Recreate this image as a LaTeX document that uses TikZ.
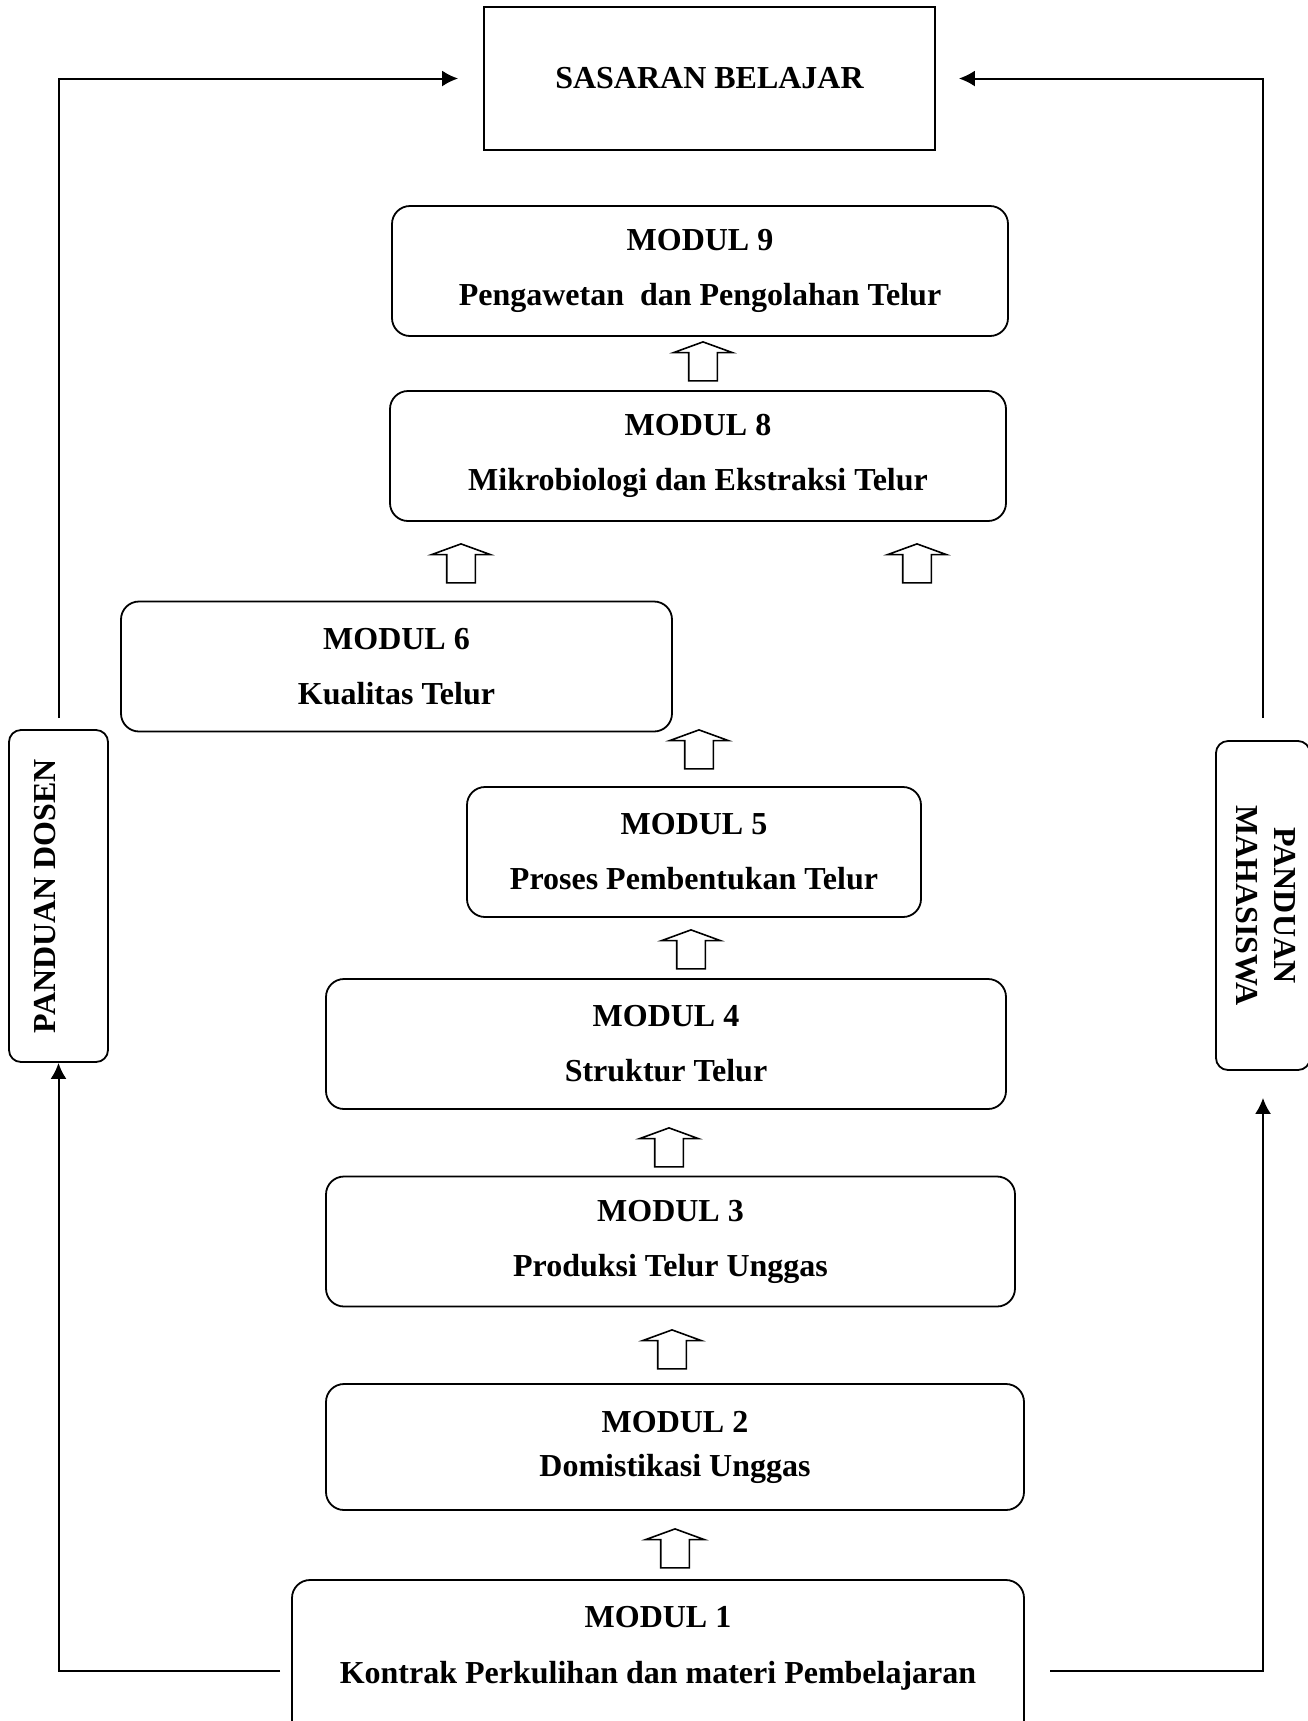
\documentclass[tikz,border=0pt]{standalone}
\usepackage{fontspec}
\setmainfont{Liberation Serif}
\usepackage{graphicx}
\usetikzlibrary{shapes, arrows, arrows.meta, positioning, calc}

\begin{document}
\begin{tikzpicture}[x=0.5pt, y=-0.5pt, line width=0.9pt]
    \tikzstyle{block} = [rectangle, draw, rounded corners=9pt, minimum height=65pt,
                         align=center, inner sep=0pt,
                         font=\fontsize{16}{19}\selectfont\bfseries]
    \tikzstyle{side} = [rectangle, draw, rounded corners=6pt, inner sep=0pt,
                        font=\fontsize{16}{19}\selectfont\bfseries]
    \tikzstyle{up} = [single arrow, draw, rotate=90, minimum height=19.5pt,
                      inner xsep=0pt, inner ysep=6.75pt, single arrow head extend=7.5pt,
                      single arrow tip angle=140, line width=0.8pt]
    \tikzstyle{link} = [line width=1pt, -{Latex[length=8pt, width=8pt]}]

    \useasboundingbox (0,0) rectangle (1308,1721);

    \node [rectangle, draw, minimum width=225.5pt, minimum height=71.5pt,
           font=\fontsize{16}{19}\selectfont\bfseries] (goal) at (709.5,78.5) {SASARAN BELAJAR};

    \node [block, minimum width=308pt] (m9) at (700,271)
        {MODUL 9\\[8.5pt]Pengawetan\ \ dan Pengolahan Telur};
    \node [block, minimum width=308pt] (m8) at (698,456)
        {MODUL 8\\[8.5pt]Mikrobiologi dan Ekstraksi Telur};
    \node [block, minimum width=275.5pt] (m6) at (396.5,666.5)
        {MODUL 6\\[8.5pt]Kualitas Telur};
    \node [block, minimum width=227pt] (m5) at (694,852)
        {MODUL 5\\[8.5pt]Proses Pembentukan Telur};
    \node [block, minimum width=340pt] (m4) at (666,1044)
        {MODUL 4\\[8.5pt]Struktur Telur};
    \node [block, minimum width=344.5pt] (m3) at (670.5,1241.5)
        {MODUL 3\\[8.5pt]Produksi Telur Unggas};
    \node [block, minimum width=349pt, minimum height=63pt] (m2) at (675,1447)
        {MODUL 2\\[3pt]Domistikasi Unggas};
    \node [block, minimum width=366pt, minimum height=80pt] (m1) at (658,1660)
        {MODUL 1\\[9pt]Kontrak Perkulihan dan materi Pembelajaran\rule[-15pt]{0pt}{0pt}};

    \node [up] (u98) at (703,364) {};
    \node [up] (u68) at (461,566) {};
    \node [up] (u78) at (917,566) {};
    \node [up] (u56) at (699,752) {};
    \node [up] (u45) at (691,952) {};
    \node [up] (u34) at (669,1150) {};
    \node [up] (u23) at (672,1352) {};
    \node [up] (u12) at (675,1551) {};

    \node [side, minimum width=49.5pt, minimum height=166pt] (dosen) at (58.5,896)
        {\rotatebox{90}{PANDUAN DOSEN\rule[-14pt]{0pt}{0pt}}};
    \node [side, minimum width=47pt, minimum height=164.5pt] (mhs) at (1263,905.5)
        {\rotatebox{-90}{\begin{tabular}{@{}c@{}}PANDUAN\\MAHASISWA\end{tabular}}};

    \coordinate (dl) at (280,1671);
    \coordinate (rl) at (1050,1671);
    \draw[link] (dl) -| (dosen.south);
    \draw[link, shorten <=5.5pt] (dosen.north) |- ([xshift=-12.5pt]goal.west);
    \draw[link, shorten >=13.5pt] (rl) -| (mhs.south);
    \draw[link, shorten <=11pt] (mhs.north) |- ([xshift=11.5pt]goal.east);
\end{tikzpicture}
\end{document}
